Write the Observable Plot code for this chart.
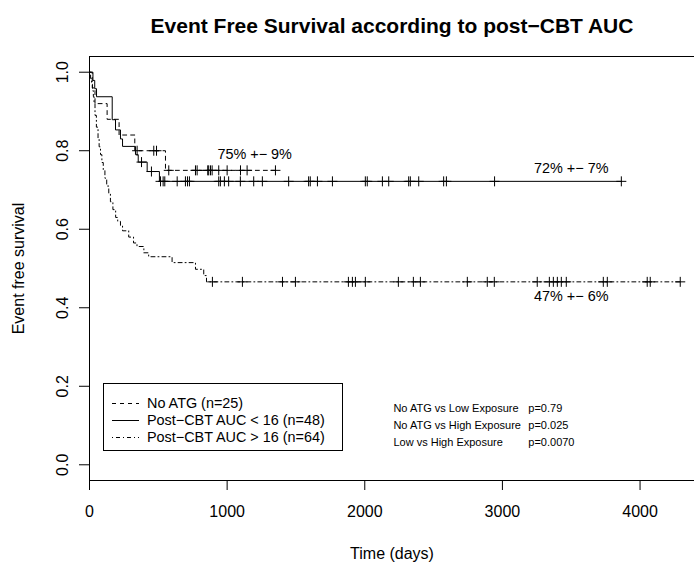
<!DOCTYPE html>
<html><head><meta charset="utf-8">
<script src="https://cdn.jsdelivr.net/npm/d3@7"></script>
<script src="https://cdn.jsdelivr.net/npm/@observablehq/plot@0.6"></script>
<style>
html,body{margin:0;padding:0;background:#fff;overflow:hidden;}
#wrap{position:relative;width:694px;height:567px;font-family:"Liberation Sans",Arial,Helvetica,sans-serif;}
#legend{position:absolute;left:103px;top:383px;width:240px;height:68px;border:1px solid #000;box-sizing:border-box;background:#fff;font-size:14.4px;}
.li{position:absolute;left:0;height:17px;line-height:17px;white-space:nowrap;}
.li svg{position:absolute;left:8px;top:0;}
.li span{position:absolute;left:43px;top:0;}
</style></head><body><div id="wrap"></div>
<script>
// ---- data ----
const xTicks = [0, 1000, 2000, 3000, 4000];
const yTicks = [0, 0.2, 0.4, 0.6, 0.8, 1.0];

// No ATG (n=25) - dashed
const noAtgTime = [0, 20, 40, 128, 215, 329, 552, 1351];
const noAtgSurv = [1, 0.96, 0.92, 0.88, 0.84, 0.80, 0.75, 0.75];
const noAtgCensor = [346, 467, 487, 576, 770, 782, 859, 866, 879, 891, 939, 1000, 1097, 1145, 1351];

// Post-CBT AUC < 16 (n=48) - solid
const lowTime = [0, 25, 38, 51, 165, 189, 225, 240, 334, 354, 419, 508, 3864];
const lowSurv = [1, 0.979, 0.958, 0.9375, 0.879, 0.853, 0.83, 0.811, 0.79, 0.771, 0.747, 0.722, 0.722];
const lowCensor = [378, 450, 516, 535, 547, 637, 697, 712, 726, 939, 951, 980, 1011, 1096, 1193, 1256, 1447, 1592, 1604, 1656, 1765, 2004, 2018, 2128, 2174, 2319, 2331, 2392, 2573, 2593, 2943, 3864];

// Post-CBT AUC > 16 (n=64) - dot-dash
const highTime = [0, 8, 15, 22, 28, 33, 40, 50, 62, 70, 80, 90, 100, 112, 125, 140, 152, 170, 190, 205, 225, 240, 285, 320, 345, 395, 430, 600, 770, 830, 850, 4292];
const highSurv = [1, 0.984, 0.969, 0.953, 0.938, 0.922, 0.89, 0.86, 0.83, 0.81, 0.79, 0.77, 0.75, 0.73, 0.71, 0.69, 0.67, 0.65, 0.63, 0.62, 0.61, 0.596, 0.58, 0.565, 0.556, 0.54, 0.53, 0.515, 0.498, 0.482, 0.466, 0.466];
const highCensor = [893, 1111, 1402, 1496, 1881, 1910, 1932, 2004, 2244, 2353, 2404, 2745, 2890, 2941, 3253, 3341, 3370, 3399, 3428, 3464, 3733, 3762, 4052, 4074, 4292];

// annotations
const annoText = ["75% +\u2212 9%", "72% +\u2212 7%", "47% +\u2212 6%"];
const annoX = [1200, 3500, 3500];
const annoY = [0.79, 0.755, 0.43];

const cmpLabels = ["No ATG vs Low Exposure", "No ATG vs High Exposure", "Low vs High Exposure"];
const cmpP = ["p=0.79", "p=0.025", "p=0.0070"];
const cmpX = 2208, cmpPX = 3188;
const cmpY = [0.143, 0.100, 0.057];

const legendLabels = ["No ATG (n=25)", "Post\u2212CBT AUC < 16 (n=48)", "Post\u2212CBT AUC > 16 (n=64)"];
const dashes = ["4,4", null, "1,3,4,3"];

// ---- build ----
const toRows = (t, s) => t.map((d, i) => ({t: d, s: s[i]}));
function survAt(t, times, survs) { let v = survs[0]; for (let i = 0; i < times.length; i++) if (times[i] <= t) v = survs[i]; return v; }
const cens = (c, t, s) => c.map(d => ({t: d, s: survAt(d, t, s)}));

const plusSym = { draw(ctx, size) { const r = Math.sqrt(size / Math.PI); ctx.moveTo(-r, 0); ctx.lineTo(r, 0); ctx.moveTo(0, -r); ctx.lineTo(0, r); } };

const font = '"Liberation Sans", Arial, Helvetica, sans-serif';
const series = [
  [noAtgTime, noAtgSurv, noAtgCensor, dashes[0]],
  [lowTime, lowSurv, lowCensor, dashes[1]],
  [highTime, highSurv, highCensor, dashes[2]]
];
const marks = [Plot.frame({stroke: "black"})];
for (const [t, s, c, da] of series) {
  marks.push(Plot.line(toRows(t, s), {x: "t", y: "s", curve: "step-after", stroke: "black", strokeWidth: 1, strokeDasharray: da}));
  marks.push(Plot.dot(cens(c, t, s), {x: "t", y: "s", symbol: plusSym, r: 5, stroke: "black", fill: "none", strokeWidth: 1}));
}
marks.push(
  Plot.axisX({ticks: xTicks, tickSize: 10, tickPadding: 15, fontSize: 16, label: null, tickFormat: d => String(d)}),
  Plot.axisY({ticks: yTicks, tickSize: 10, text: null, label: null}),
  Plot.text(yTicks, {y: d => d, text: d => d.toFixed(1), frameAnchor: "left", dx: -27, rotate: -90, fontSize: 16, textAnchor: "middle", lineAnchor: "middle"}),
  Plot.text(annoText, {x: (d, i) => annoX[i], y: (d, i) => annoY[i], text: d => d, fontSize: 14.4}),
  Plot.text(cmpLabels, {x: cmpX, y: (d, i) => cmpY[i], text: d => d, fontSize: 11, textAnchor: "start"}),
  Plot.text(cmpP, {x: cmpPX, y: (d, i) => cmpY[i], text: d => d, fontSize: 11, textAnchor: "start"}),
  Plot.text(["Time (days)"], {frameAnchor: "bottom", dy: 78, fontSize: 16}),
  Plot.text(["Event free survival"], {frameAnchor: "left", dx: -71, rotate: -90, fontSize: 16, textAnchor: "middle", lineAnchor: "middle"}),
  Plot.text(["Event Free Survival according to post\u2212CBT AUC"], {frameAnchor: "top", dy: -38, fontSize: 21, fontWeight: "bold"})
);

const chart = Plot.plot({
  width: 694, height: 567,
  marginLeft: 89, marginTop: 56, marginBottom: 87, marginRight: 0,
  x: {domain: [0, 4490], range: [89, 707]},
  y: {domain: [-0.04, 1.04]},
  style: {fontFamily: font, color: "black", background: "white", overflow: "visible"},
  marks
});
const wrap = document.getElementById("wrap");
wrap.appendChild(chart);

// legend box
const lg = document.createElement("div");
lg.id = "legend";
legendLabels.forEach((lab, i) => {
  const row = document.createElement("div");
  row.className = "li";
  row.style.top = (11 + i * 17) + "px";
  row.innerHTML = `<svg width="28" height="17"><line x1="0" x2="27" y1="8.5" y2="8.5" stroke="black" stroke-width="1" ${dashes[i] ? `stroke-dasharray="${dashes[i]}"` : ""}/></svg><span>${lab}</span>`;
  lg.appendChild(row);
});
wrap.appendChild(lg);
</script></body></html>
